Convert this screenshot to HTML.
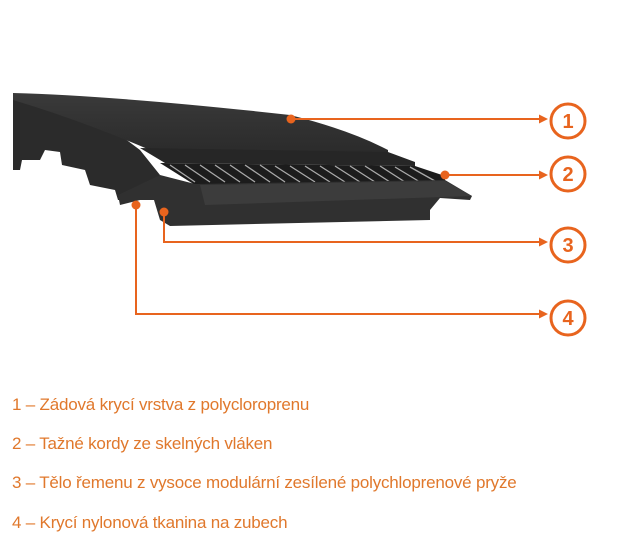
<!DOCTYPE html>
<html><head><meta charset="utf-8"><style>
body{margin:0;width:635px;height:552px;background:#fff;overflow:hidden;position:relative;font-family:"Liberation Sans",sans-serif}
.t{position:absolute;left:12px;color:#e0782c;font-size:17px;white-space:nowrap;letter-spacing:-0.2px}
</style></head><body>
<svg width="635" height="380" style="position:absolute;left:0;top:0">
<defs><linearGradient id="g" x1="0" y1="0" x2="0" y2="1"><stop offset="0" stop-color="#3a3a3a"/><stop offset="1" stop-color="#2a2a2a"/></linearGradient></defs>
<path d="M13,95 L13,170 L20,170 L22,160 L40,160 L45,150 L60,152 L62,165 L85,170 L90,185 L115,190 L118,200 L140,200 L150,190 L160,175 L140,150 L100,120 L60,105 Z" fill="#2b2b2b"/>
<path d="M13,93 Q120,96 290,115 Q350,130 388,150 L388,156 L150,150 Q80,120 13,100 Z" fill="url(#g)"/>
<path d="M140,148 L388,152 L415,162 L415,166 L165,163 Z" fill="#262626"/>
<path d="M160,163 L415,166 L445,176 L445,182 L195,185 Z" fill="#1c1c1c"/>
<g stroke="#aaa" stroke-width="1.3">
<path d="M170,165 L195,182 M185,165 L210,182 M200,165 L225,182 M215,165 L240,182 M230,165 L255,182 M245,165 L270,182 M260,165 L285,182 M275,166 L300,182 M290,166 L315,182 M305,166 L330,182 M320,166 L345,182 M335,166 L360,182 M350,166 L375,182 M365,166 L390,182 M380,166 L405,182 M395,167 L420,182 M410,167 L435,181"/>
</g>
<path d="M160,175 L195,184 L445,180 L472,196 L470,200 L440,198 L430,210 L430,220 L170,226 L160,220 L154,200 L140,200 L120,205 L118,195 Z" fill="#303030"/>
<path d="M200,185 L445,181 L472,196 L205,205 Z" fill="#3c3c3c"/>
<g fill="#e8641e">
<circle cx="291" cy="119" r="4.5"/><circle cx="445" cy="175" r="4.5"/><circle cx="164" cy="212" r="4.5"/><circle cx="136" cy="205" r="4.5"/>
</g>
<g stroke="#e8641e" stroke-width="2" fill="none">
<path d="M291,119 H540 M445,175 H540 M164,212 V242 H540 M136,205 V314 H540"/>
<circle cx="568" cy="121" r="17" stroke-width="3"/><circle cx="568" cy="174" r="17" stroke-width="3"/><circle cx="568" cy="245" r="17" stroke-width="3"/><circle cx="568" cy="318" r="17" stroke-width="3"/>
</g>
<g fill="#e8641e">
<path d="M548,119 l-9,-4.5 v9 Z M548,175 l-9,-4.5 v9 Z M548,242 l-9,-4.5 v9 Z M548,314 l-9,-4.5 v9 Z"/>
</g>
<g fill="#e8641e" font-size="20" font-weight="bold" text-anchor="middle" font-family="Liberation Sans">
<text x="568" y="128">1</text><text x="568" y="181">2</text><text x="568" y="252">3</text><text x="568" y="325">4</text>
</g>
</svg>
<div class="t" style="top:395px">1 – Zádová krycí vrstva z polycloroprenu</div>
<div class="t" style="top:434px">2 – Tažné kordy ze skelných vláken</div>
<div class="t" style="top:473px">3 – Tělo řemenu z vysoce modulární zesílené polychloprenové pryže</div>
<div class="t" style="top:513px">4 – Krycí nylonová tkanina na zubech</div>
</body></html>
